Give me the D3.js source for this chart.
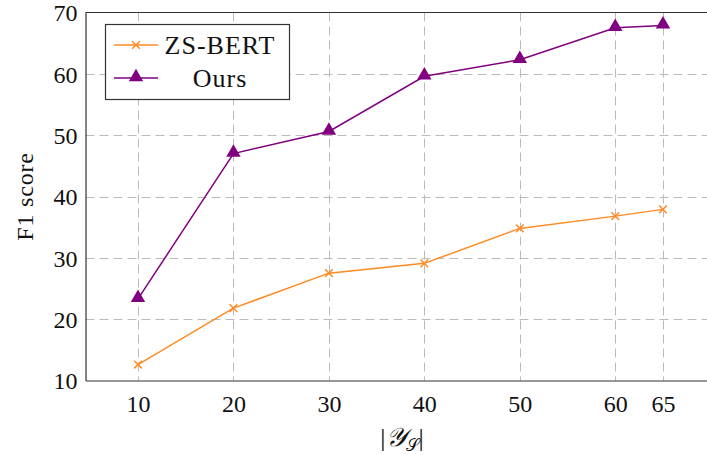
<!DOCTYPE html>
<html>
<head>
<meta charset="utf-8">
<script src="https://cdn.jsdelivr.net/npm/d3@7"></script>
<style>
  body { margin: 0; background: #fff; }
  svg text { font-family: "Liberation Serif", serif; fill: #111; }
</style>
</head>
<body>
<svg id="chart" width="707" height="455"></svg>
<script>
// data
const sizes = [10, 20, 30, 40, 50, 60, 65];
const zsBert = [12.6, 21.8, 27.5, 29.1, 34.8, 36.8, 37.9];
const ours = [23.3, 47.0, 50.6, 59.6, 62.3, 67.5, 67.9];
const yTicks = [10, 20, 30, 40, 50, 60, 70];
const seriesNames = ["ZS-BERT", "Ours"];

const svg = d3.select("#chart");
const plotL = 85.5, plotT = 12.5, plotB = 380.5, plotR = 715.5;

const x = d3.scaleLinear().domain([4.5, 70.5]).range([plotL, plotR]);
const y = d3.scaleLinear().domain([10, 70]).range([plotB, plotT]);

// grid
const grid = svg.append("g")
  .attr("stroke", "#bbb")
  .attr("stroke-width", 1)
  .attr("stroke-dasharray", "9 5");
grid.selectAll(".vx").data(sizes).enter().append("line")
  .attr("x1", d => Math.round(x(d)) + 0.5).attr("x2", d => Math.round(x(d)) + 0.5)
  .attr("y1", plotT).attr("y2", plotB);
grid.selectAll(".hy").data(yTicks.slice(1, -1)).enter().append("line")
  .attr("y1", d => Math.round(y(d)) + 0.5).attr("y2", d => Math.round(y(d)) + 0.5)
  .attr("x1", plotL).attr("x2", plotR);

// axes
const xAxis = svg.append("g")
  .attr("transform", `translate(0,${plotB})`)
  .call(d3.axisBottom(x).tickValues(sizes).tickSize(0).tickPadding(14));
const yAxis = svg.append("g")
  .attr("transform", `translate(${plotL},0)`)
  .call(d3.axisLeft(y).tickValues(yTicks).tickSize(0).tickPadding(8));
[xAxis, yAxis].forEach(a => {
  a.select(".domain").attr("stroke", "#333").attr("stroke-width", 1.2);
  a.selectAll("text").attr("font-size", 24).attr("fill", "#111")
    .style("font-family", '"Liberation Serif", serif');
});
xAxis.selectAll("text").attr("dy", "0.71em");
yAxis.selectAll("text").attr("dy", "0.35em");

// top spine
svg.append("line")
  .attr("x1", plotL).attr("x2", plotR).attr("y1", plotT).attr("y2", plotT)
  .attr("stroke", "#333").attr("stroke-width", 1.2);

// axis titles
svg.append("text")
  .attr("transform", `translate(33,${(plotT + plotB) / 2}) rotate(-90)`)
  .attr("text-anchor", "middle")
  .attr("font-size", 24)
  .attr("letter-spacing", 0.8)
  .text("F1 score");

const xl = svg.append("text")
  .attr("x", 402).attr("y", 446)
  .attr("text-anchor", "middle")
  .attr("font-size", 26);
xl.append("tspan").text("|");
xl.append("tspan").attr("font-style", "italic").attr("fill", "#111")
  .style("font-family", '"DejaVu Serif", serif').text("𝒴");
xl.append("tspan").attr("font-size", 17).attr("dy", 5).attr("fill", "#111")
  .style("font-family", '"DejaVu Serif", serif').text("𝒮");
xl.append("tspan").attr("dy", -5).text("|");

// lines and markers
const colors = ["#ff8a22", "#800080"];
const series = [zsBert, ours];
const line = d3.line().x((d, i) => x(sizes[i])).y(d => y(d));

series.forEach((vals, s) => {
  svg.append("path")
    .datum(vals)
    .attr("d", line)
    .attr("fill", "none")
    .attr("stroke", colors[s])
    .attr("stroke-width", 1.5);
});

const cross = d3.symbol().type(d3.symbolX).size(40);
const tri = d3.symbol().type(d3.symbolTriangle).size(90);

svg.append("g").selectAll("path").data(zsBert).enter().append("path")
  .attr("transform", (d, i) => `translate(${x(sizes[i])},${y(d)})`)
  .attr("d", cross)
  .attr("fill", "none")
  .attr("stroke", colors[0])
  .attr("stroke-width", 1.5);

svg.append("g").selectAll("path").data(ours).enter().append("path")
  .attr("transform", (d, i) => `translate(${x(sizes[i])},${y(d) - 1})`)
  .attr("d", tri)
  .attr("fill", colors[1]);

// legend
const lg = svg.append("g");
lg.append("rect")
  .attr("x", 105.5).attr("y", 24.5).attr("width", 184).attr("height", 75)
  .attr("fill", "#fff").attr("stroke", "#333").attr("stroke-width", 1.2);
const rows = [45, 78];
seriesNames.forEach((name, s) => {
  const ry = rows[s];
  lg.append("line")
    .attr("x1", 114).attr("x2", 158).attr("y1", ry).attr("y2", ry)
    .attr("stroke", colors[s]).attr("stroke-width", 1.5);
  const m = lg.append("path")
    .attr("transform", `translate(136,${s ? ry - 1 : ry})`)
    .attr("d", s ? tri : cross);
  if (s) m.attr("fill", colors[s]);
  else m.attr("fill", "none").attr("stroke", colors[s]).attr("stroke-width", 1.5);
  lg.append("text")
    .attr("x", 220).attr("y", ry).attr("dy", "0.35em")
    .attr("text-anchor", "middle")
    .attr("font-size", 26)
    .attr("letter-spacing", 1)
    .text(name);
});
</script>
</body>
</html>
